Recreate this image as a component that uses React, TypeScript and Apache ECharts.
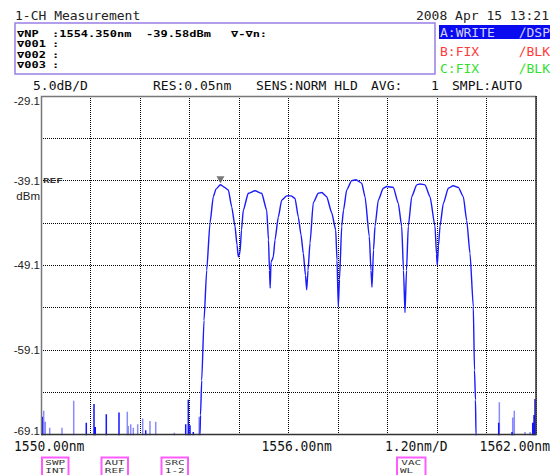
import React, { useEffect, useRef } from "react";
import * as echarts from "echarts";

// ---- axis ranges ----
const X_MIN = 1550;
const X_MAX = 1562;
const X_STEP = 1.2;
const Y_MIN = -69.1;
const Y_MAX = -29.1;
const Y_STEP = 5;

// ---- tick labels ----
const yTickValues = [-29.1, -39.1, -49.1, -59.1, -69.1];
const yTickLabels = ["-29.1", "-39.1", "-49.1", "-59.1", "-69.1"];
const xTickValues = [1550, 1556, 1562];
const xTickLabels = ["1550.00nm", "1556.00nm", "1562.00nm"];
const xScaleLabel = "1.20nm/D";

// ---- main trace (wavelength nm, power dBm) ----
const traceWavelength = [
  1553.845, 1553.855, 1553.867, 1553.896, 1553.952, 1554.017, 1554.097, 1554.177, 1554.242, 1554.35,
  1554.436, 1554.541, 1554.623, 1554.703, 1554.752, 1554.783, 1554.8, 1554.824, 1554.861, 1554.904,
  1555.025, 1555.188, 1555.35, 1555.472, 1555.515, 1555.539, 1555.556, 1555.576, 1555.6, 1555.632,
  1555.673, 1555.753, 1555.835, 1555.956, 1556.061, 1556.158, 1556.238, 1556.303, 1556.359, 1556.412,
  1556.441, 1556.473, 1556.521, 1556.601, 1556.722, 1556.805, 1556.926, 1557.047, 1557.144, 1557.176,
  1557.207, 1557.236, 1557.29, 1557.333, 1557.411, 1557.532, 1557.636, 1557.775, 1557.855, 1557.959,
  1558.0, 1558.024, 1558.061, 1558.097, 1558.177, 1558.298, 1558.381, 1558.541, 1558.662, 1558.744,
  1558.788, 1558.824, 1558.861, 1558.904, 1558.987, 1559.108, 1559.188, 1559.309, 1559.43, 1559.552,
  1559.588, 1559.607, 1559.636, 1559.673, 1559.753, 1559.874, 1559.995, 1560.116, 1560.238, 1560.32,
  1560.4, 1560.48, 1560.509, 1560.533, 1560.545, 1560.555,
];
const tracePower = [
  -75, -69.1, -66.8, -62.7, -55.6, -49.7, -44.1, -41.0, -40.1, -39.58,
  -39.85, -40.2, -42.2, -44.5, -46.7, -48.1, -47.9, -47.6, -44.9, -42.6,
  -40.6, -40.3, -40.6, -42.6, -46.1, -49.7, -51.8, -48.7, -48.5, -48.1,
  -46.1, -43.4, -41.4, -40.9, -40.9, -41.2, -43.4, -45.5, -47.7, -50.3,
  -52.0, -49.7, -46.5, -41.7, -40.6, -40.5, -41.0, -42.9, -44.9, -48.5,
  -54.0, -50.8, -44.5, -42.6, -40.2, -39.1, -39.0, -39.4, -41.0, -45.7,
  -49.7, -51.7, -47.3, -44.5, -41.4, -40.0, -39.8, -39.9, -41.8, -44.5,
  -49.7, -54.7, -49.7, -44.5, -41.0, -39.6, -39.5, -39.6, -41.0, -44.5,
  -47.8, -49.1, -46.8, -44.5, -41.8, -40.0, -39.7, -39.9, -41.0, -43.8,
  -47.7, -54.0, -61.5, -65.0, -69.1, -75,
];

// ---- noise-floor spikes ----
const NOISE_BASE = -80;
const noiseDarkWavelength = [
  1550.032, 1551.098, 1551.285, 1551.316, 1551.583, 1551.891, 1552.538, 1553.508,
  1553.571, 1553.612, 1553.692, 1561.096, 1561.418, 1561.92, 1561.952, 1561.976,
];
const noiseDarkPower = [
  -67.0, -67.7, -65.5, -68.2, -66.7, -66.5, -68.6, -67.9,
  -65.0, -68.0, -68.8, -67.7, -68.8, -67.7, -66.8, -64.9,
];
const noiseLightWavelength = [
  1550.065, 1550.104, 1550.211, 1550.509, 1550.793, 1552.092, 1552.116, 1552.175, 1552.238, 1552.344,
  1552.465, 1552.642, 1552.781, 1553.232, 1553.835, 1561.111, 1561.435, 1561.474, 1561.733, 1561.855,
];
const noiseLightPower = [
  -66.3, -67.6, -68.3, -68.3, -65.1, -66.4, -68.1, -67.9, -68.3, -67.9,
  -67.2, -67.5, -67.6, -68.9, -67.0, -65.3, -67.1, -66.3, -68.8, -68.8,
];

// ---- peak marker ----
const markerWavelength = 1554.35;
const markerPower = -39.58;

// ---- header texts ----
const titleText = "1-CH Measurement";
const dateText = "2008 Apr 15 13:21";
const markerRows = [
  ["\u2207NP", ":1554.350nm", "-39.58dBm", "\u2207-\u2207n:"],
  ["\u2207001", ":", "", ""],
  ["\u2207002", ":", "", ""],
  ["\u2207003", ":", "", ""],
];
const traceRows = [
  { name: "A:WRITE", mode: "\u2215DSP" },
  { name: "B:FIX", mode: "\u2215BLK" },
  { name: "C:FIX", mode: "\u2215BLK" },
];
const settingTexts = ["5.0dB/D", "RES:0.05nm", "SENS:NORM HLD", "AVG:", "1", "SMPL:AUTO"];
const softKeys = [
  ["SWP", "INT"],
  ["AUT", "REF"],
  ["SRC", "1-2"],
  ["VAC", "WL"],
];

// ---- layout ----
const W = 558;
const H = 475;
const GRID_LEFT = 41;
const GRID_TOP = 96;
const GRID_W = 495;
const GRID_H = 338.5;
const MONO = '"DejaVu Sans Mono", monospace';
const SANS = '"Liberation Sans", Arial, sans-serif';

const gy = (v: number) => GRID_TOP + ((Y_MAX - v) / (Y_MAX - Y_MIN)) * GRID_H;
const gx = (v: number) => GRID_LEFT + ((v - X_MIN) / (X_MAX - X_MIN)) * GRID_W;

type TOpts = { size?: number; color?: string; align?: string; family?: string; weight?: string; sy?: number; sx?: number };
const txt = (text: string, x: number, y: number, o: TOpts = {}) => ({
  type: "text",
  x,
  y,
  scaleX: o.sx ?? 1,
  scaleY: o.sy ?? 1,
  z: 20,
  style: {
    text,
    fill: o.color ?? "#111",
    fontSize: o.size ?? 13,
    fontFamily: o.family ?? MONO,
    fontWeight: o.weight ?? "normal",
    textAlign: o.align ?? "left",
    textVerticalAlign: "middle",
    align: o.align ?? "left",
    verticalAlign: "middle",
  },
});

function spikes(ws: number[], ps: number[]) {
  const out: number[][] = [];
  ws.forEach((w, i) => {
    out.push([w, NOISE_BASE], [w, ps[i]], [w, NOISE_BASE]);
  });
  return out;
}

function buildGraphics() {
  const els: any[] = [];
  // plot frame
  els.push({
    type: "polyline",
    shape: { points: [[GRID_LEFT + 0.5, GRID_TOP + GRID_H], [GRID_LEFT + 0.5, GRID_TOP + 0.5], [GRID_LEFT + GRID_W, GRID_TOP + 0.5]] },
    style: { stroke: "#777", lineWidth: 1.5, fill: null },
    z: 15,
  });
  els.push({
    type: "polyline",
    shape: { points: [[GRID_LEFT, GRID_TOP + GRID_H], [GRID_LEFT + GRID_W, GRID_TOP + GRID_H], [GRID_LEFT + GRID_W, GRID_TOP]] },
    style: { stroke: "#333", lineWidth: 1.5, fill: null },
    z: 15,
  });
  // title & date
  els.push(txt(titleText, 15, 15, { size: 13, color: "#222" }));
  els.push(txt(dateText, 549, 15, { size: 13, color: "#222", align: "right" }));
  // marker info box
  els.push({
    type: "rect",
    shape: { x: 15, y: 23, width: 420, height: 51 },
    style: { fill: "#fff", stroke: "#9b7fe6", lineWidth: 1.5 },
    z: 10,
  });
  const rowY = [33.3, 44.2, 54.8, 65.2];
  const colX = [17, 52, 146, 231];
  markerRows.forEach((row, r) => {
    row.forEach((t, c) => {
      if (t) els.push(txt(t, colX[c], rowY[r], { size: 12, color: "#000", sy: 0.7, weight: "bold" }));
    });
  });
  // trace legend
  els.push({
    type: "rect",
    shape: { x: 439, y: 25, width: 111, height: 14 },
    style: { fill: "#0a0af0" },
    z: 10,
  });
  const trColors = ["#d0d0ff", "#ff3a3a", "#33e033"];
  const trY = [32, 51.5, 68];
  traceRows.forEach((r, i) => {
    els.push(txt(r.name, 440, trY[i], { size: 13, color: trColors[i] }));
    els.push(txt(r.mode, 550, trY[i], { size: 13, color: trColors[i], align: "right" }));
  });
  // settings row
  const setX = [33, 153, 256, 371, 431, 452];
  settingTexts.forEach((t, i) => els.push(txt(t, setX[i], 85, { size: 13, color: "#111" })));
  // y labels
  yTickValues.forEach((v, i) => {
    let y = gy(v);
    if (i === 0) y += 5;
    if (i === yTickValues.length - 1) y -= 4;
    els.push(txt(yTickLabels[i], 40, y, { size: 11.5, family: SANS, color: "#222", align: "right" }));
  });
  els.push(txt("dBm", 40, gy(-39.1) + 15, { size: 11.5, family: SANS, color: "#222", align: "right" }));
  els.push(txt("REF", 43, gy(-39.1) - 0.5, { size: 11, color: "#333", sy: 0.65, weight: "bold" }));
  // x labels
  els.push(txt(xTickLabels[0], gx(xTickValues[0]) - 27, 446, { size: 13, color: "#111", sy: 1.15 }));
  els.push(txt(xTickLabels[1], gx(xTickValues[1]) - 27, 446, { size: 13, color: "#111", sy: 1.15 }));
  els.push(txt(xTickLabels[2], 550, 446, { size: 13, color: "#111", sy: 1.15, align: "right" }));
  els.push(txt(xScaleLabel, 385, 446, { size: 13, color: "#111", sy: 1.15 }));
  // soft keys
  const keyX = [42, 101.5, 161.5, 397];
  const keyW = [26.5, 26.5, 26.5, 28.5];
  softKeys.forEach((k, i) => {
    els.push({
      type: "rect",
      shape: { x: keyX[i], y: 457.5, width: keyW[i], height: 19 },
      style: { fill: "#fff", stroke: "#ff5cff", lineWidth: 2 },
      z: 10,
    });
    const cx = keyX[i] + keyW[i] / 2;
    els.push(txt(k[0], cx, 462.5, { size: 11, color: "#333", sy: 0.65, align: "center" }));
    if (i === 3) {
      els.push(txt(k[1], keyX[i] + 3, 470, { size: 11, color: "#333", sy: 0.65 }));
    } else {
      els.push(txt(k[1], cx, 470, { size: 11, color: "#333", sy: 0.65, align: "center" }));
    }
  });
  return els;
}

export default function App() {
  const ref = useRef<HTMLDivElement>(null);
  useEffect(() => {
    if (!ref.current) return;
    const chart = echarts.init(ref.current, null, { renderer: "svg", width: W, height: H });
    const dotted = { color: "#000", width: 1, type: "dotted", dashOffset: 0 };
    const option: any = {
      animation: false,
      backgroundColor: "#fff",
      grid: {
        left: GRID_LEFT,
        top: GRID_TOP,
        width: GRID_W,
        height: GRID_H,
        show: false,
      },
      xAxis: {
        type: "value",
        min: X_MIN,
        max: X_MAX,
        interval: X_STEP,
        axisLabel: { show: false },
        axisTick: { show: false },
        axisLine: { show: false },
        splitLine: { show: true, lineStyle: dotted },
      },
      yAxis: {
        type: "value",
        min: Y_MIN,
        max: Y_MAX,
        interval: Y_STEP,
        axisLabel: { show: false },
        axisTick: { show: false },
        axisLine: { show: false },
        splitLine: { show: true, lineStyle: dotted },
      },
      series: [
        {
          type: "line",
          name: "noiseLight",
          data: spikes(noiseLightWavelength, noiseLightPower),
          showSymbol: false,
          lineStyle: { color: "#8a8aff", width: 1.5 },
          clip: true,
          z: 2,
        },
        {
          type: "line",
          name: "noiseDark",
          data: spikes(noiseDarkWavelength, noiseDarkPower),
          showSymbol: false,
          lineStyle: { color: "#1414ff", width: 1.5 },
          clip: true,
          z: 3,
        },
        {
          type: "line",
          name: "trace",
          data: traceWavelength.map((w, i) => [w, tracePower[i]]),
          showSymbol: false,
          smooth: 0.2,
          smoothMonotone: "x",
          lineStyle: { color: "#1a1aff", width: 1.4 },
          clip: true,
          z: 4,
        },
        {
          type: "scatter",
          name: "marker",
          data: [[markerWavelength, markerPower]],
          symbol: "triangle",
          symbolRotate: 180,
          symbolSize: [8, 7],
          symbolOffset: [0, -5],
          itemStyle: { color: "#555" },
          z: 5,
        },
      ],
      graphic: { elements: buildGraphics() },
    };
    chart.setOption(option);
    return () => chart.dispose();
  }, []);
  return (
    <div
      ref={ref}
      style={{ position: "fixed", left: 0, top: 0, width: W, height: H, background: "#fff" }}
    />
  );
}
